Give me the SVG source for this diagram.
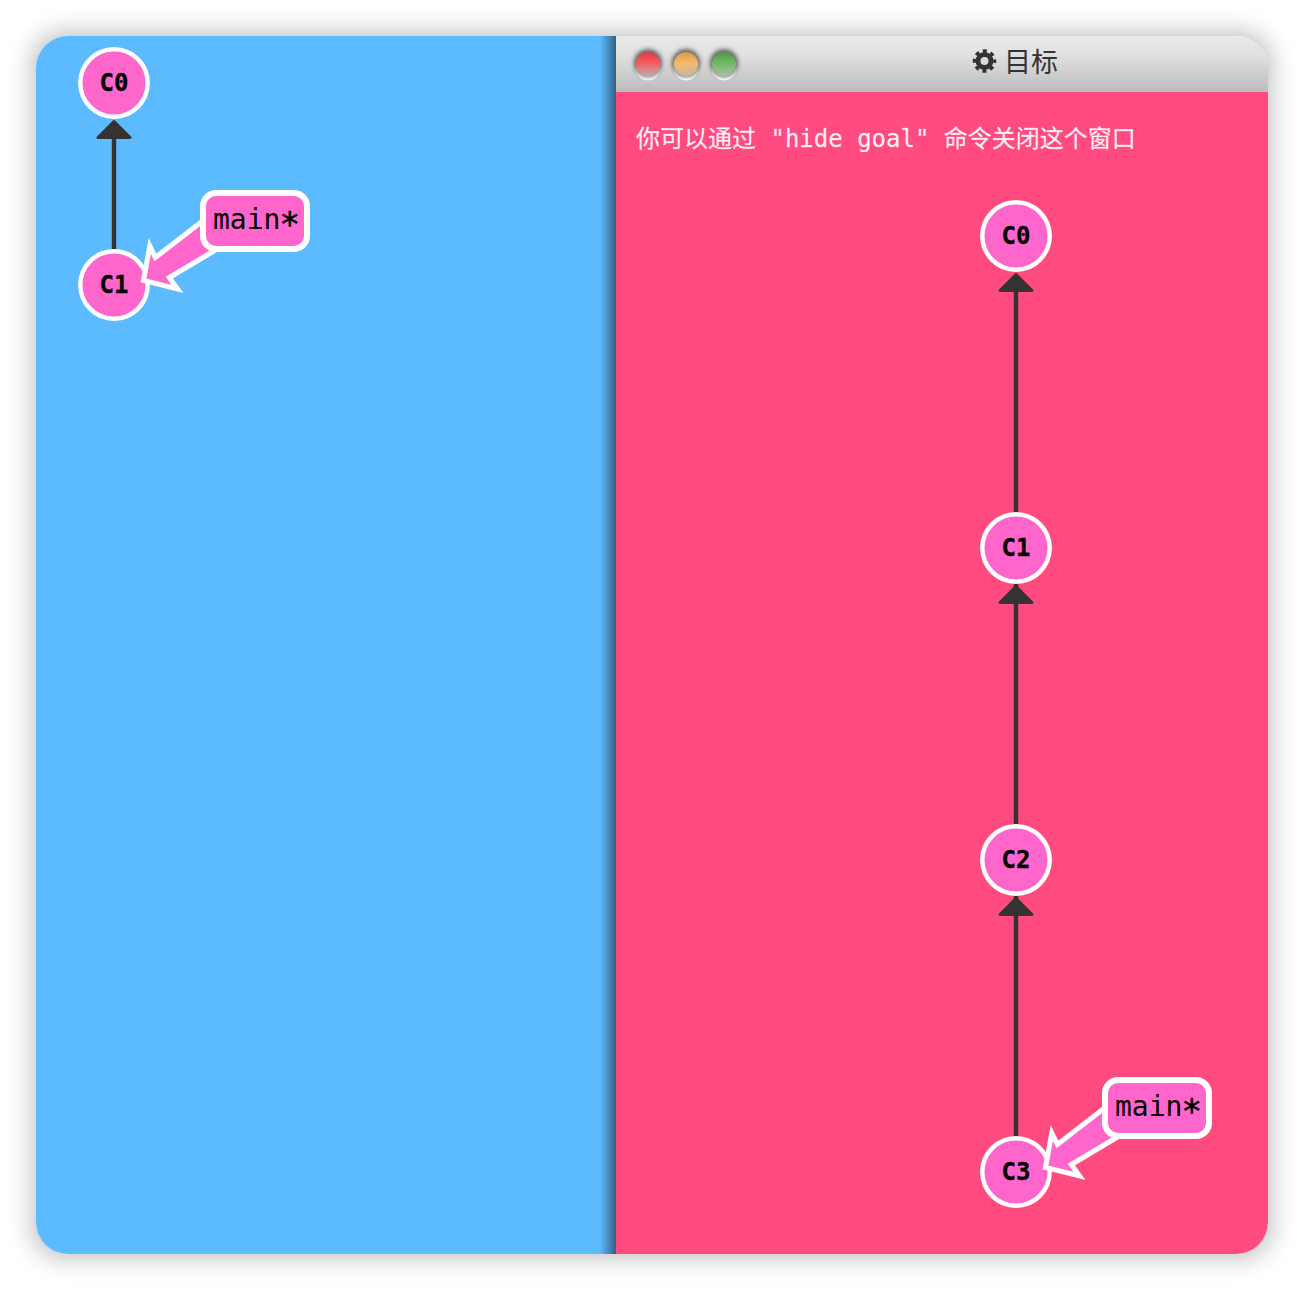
<svg xmlns="http://www.w3.org/2000/svg" width="1304" height="1290" viewBox="0 0 1304 1290">
<style>
.node circle{fill:#ff66cc;stroke:#fff;stroke-width:4.400}
.node text{font:bold 24px "DejaVu Sans Mono",monospace;fill:#000;text-anchor:middle;stroke:#000;stroke-width:.3}
.edge{stroke:#333;stroke-width:4.400;fill:none}
.head{fill:#333;stroke:#333;stroke-width:3;stroke-linejoin:round}
.tag rect{fill:#ff66cc;stroke:#fff;stroke-width:6}
.tag path{fill:#ff66cc;stroke:#fff;stroke-width:5;stroke-linejoin:miter;stroke-miterlimit:10}
.tag text{font:28px "DejaVu Sans Mono",monospace;fill:#000}
.tag tspan{font-size:34px;stroke:#000;stroke-width:.5}
</style>
<defs>
<filter id="sh" x="-10%" y="-10%" width="120%" height="120%"><feGaussianBlur stdDeviation="8"/></filter>
<filter id="sh2" x="-10%" y="-10%" width="120%" height="120%"><feGaussianBlur stdDeviation="7"/></filter>
<filter id="b2" x="-50%" y="-50%" width="200%" height="200%"><feGaussianBlur stdDeviation="2"/></filter>
<linearGradient id="bar" x1="0" y1="0" x2="0" y2="1"><stop offset="0" stop-color="#e9e9e9"/><stop offset="0.3" stop-color="#e2e2e2"/><stop offset="1" stop-color="#bcbcbc"/></linearGradient>
<linearGradient id="edgeShade" x1="0" y1="0" x2="1" y2="0"><stop offset="0" stop-color="#000" stop-opacity="0"/><stop offset="1" stop-color="#000" stop-opacity="0.48"/></linearGradient>
<linearGradient id="r" x1="0" y1="0" x2="0" y2="1"><stop offset="0" stop-color="#dc3c44"/><stop offset="0.4" stop-color="#f8555c"/><stop offset="1" stop-color="#c4a8a8"/></linearGradient>
<linearGradient id="y" x1="0" y1="0" x2="0" y2="1"><stop offset="0" stop-color="#d4984a"/><stop offset="0.45" stop-color="#f8b868"/><stop offset="1" stop-color="#c8b8a0"/></linearGradient>
<linearGradient id="g" x1="0" y1="0" x2="0" y2="1"><stop offset="0" stop-color="#4a9a45"/><stop offset="0.45" stop-color="#72b865"/><stop offset="1" stop-color="#a8c0a2"/></linearGradient>
<clipPath id="win"><rect x="36" y="36" width="1232" height="1218" rx="32"/></clipPath>
</defs>

<rect x="20" y="20" width="1264" height="1250" rx="46" fill="#000" fill-opacity="0.07" filter="url(#sh)"/>
<rect x="32" y="32" width="1240" height="1226" rx="36" fill="#000" fill-opacity="0.12" filter="url(#sh2)"/>
<rect x="36" y="36" width="1232" height="1218" rx="32" fill="#fff"/>
<g clip-path="url(#win)">
  <rect x="36" y="36" width="580" height="1218" fill="#5cbaff"/>
  <rect x="600" y="36" width="16" height="1218" fill="url(#edgeShade)"/>
  <rect x="616" y="92" width="652" height="1162" fill="#ff4b7f"/>
  <rect x="616" y="36" width="652" height="56" fill="url(#bar)"/>
</g>

<g id="window-controls">
  <circle cx="648" cy="68" r="12.500" fill="#fff"/><circle cx="686" cy="68" r="12.500" fill="#fff"/><circle cx="724" cy="68" r="12.500" fill="#fff"/>
  <circle cx="648" cy="63" r="14" fill="#444" fill-opacity=".8" filter="url(#b2)"/><circle cx="686" cy="63" r="14" fill="#444" fill-opacity=".8" filter="url(#b2)"/><circle cx="724" cy="63" r="14" fill="#444" fill-opacity=".8" filter="url(#b2)"/>
  <circle cx="648" cy="64" r="12" fill="url(#r)"/><circle cx="686" cy="64" r="12" fill="url(#y)"/><circle cx="724" cy="64" r="12" fill="url(#g)"/>
</g>
<g id="title">
  <circle cx="984.500" cy="61" r="6.500" fill="none" stroke="#333" stroke-width="5"/>
  <circle cx="984.500" cy="61" r="10" fill="none" stroke="#333" stroke-width="3.500" stroke-dasharray="4 3.854" stroke-dashoffset="2"/>
  <text x="1004" y="72" font-family="'Noto Sans CJK SC',sans-serif" font-size="27" fill="#333">目标</text>
</g>
<text x="636" y="147" font-family="'DejaVu Sans Mono','Noto Sans CJK SC',monospace" font-size="24" fill="#fff" fill-opacity="0.92" stroke="#fff" stroke-opacity=".5" stroke-width=".3" xml:space="preserve">你可以通过 "hide goal" 命令关闭这个窗口</text>

<g id="connectors">
  <path class="edge" d="M114 250V136"/><path class="head" d="M114 121.500L130 137.500H98Z"/>
  <path class="edge" d="M1016 1138V290"/>
  <path class="head" d="M1016 274.500L1032 290.500H1000Z"/>
  <path class="head" d="M1016 586.500L1032 602.500H1000Z"/>
  <path class="head" d="M1016 898.500L1032 914.500H1000Z"/>
</g>

<g id="node-left-C0" class="node"><circle cx="114" cy="83" r="33.700"/><text x="114" y="91">C0</text></g>
<g id="node-left-C1" class="node"><circle cx="114" cy="285" r="33.700"/><text x="114" y="293">C1</text></g>
<g id="node-right-C0" class="node"><circle cx="1016" cy="236" r="33.700"/><text x="1016" y="244">C0</text></g>
<g id="node-right-C1" class="node"><circle cx="1016" cy="548" r="33.700"/><text x="1016" y="556">C1</text></g>
<g id="node-right-C2" class="node"><circle cx="1016" cy="860" r="33.700"/><text x="1016" y="868">C2</text></g>
<g id="node-right-C3" class="node"><circle cx="1016" cy="1172" r="33.700"/><text x="1016" y="1180">C3</text></g>

<g id="tag-left-main" class="tag">
  <path d="M143.500 280.500L149.800 246L155.400 257.500L220 207.500L240 235.500L169.300 277.500L177.500 289Z"/>
  <rect x="203" y="193" width="104" height="56" rx="13"/>
  <text x="213" y="229">main<tspan dx="-1" dy="7">*</tspan></text>
</g>
<g id="tag-right-main" class="tag" transform="translate(902 887)">
  <path d="M143.500 280.500L149.800 246L155.400 257.500L220 207.500L240 235.500L169.300 277.500L177.500 289Z"/>
  <rect x="203" y="193" width="104" height="56" rx="13"/>
  <text x="213" y="229">main<tspan dx="-1" dy="7">*</tspan></text>
</g>
</svg>
